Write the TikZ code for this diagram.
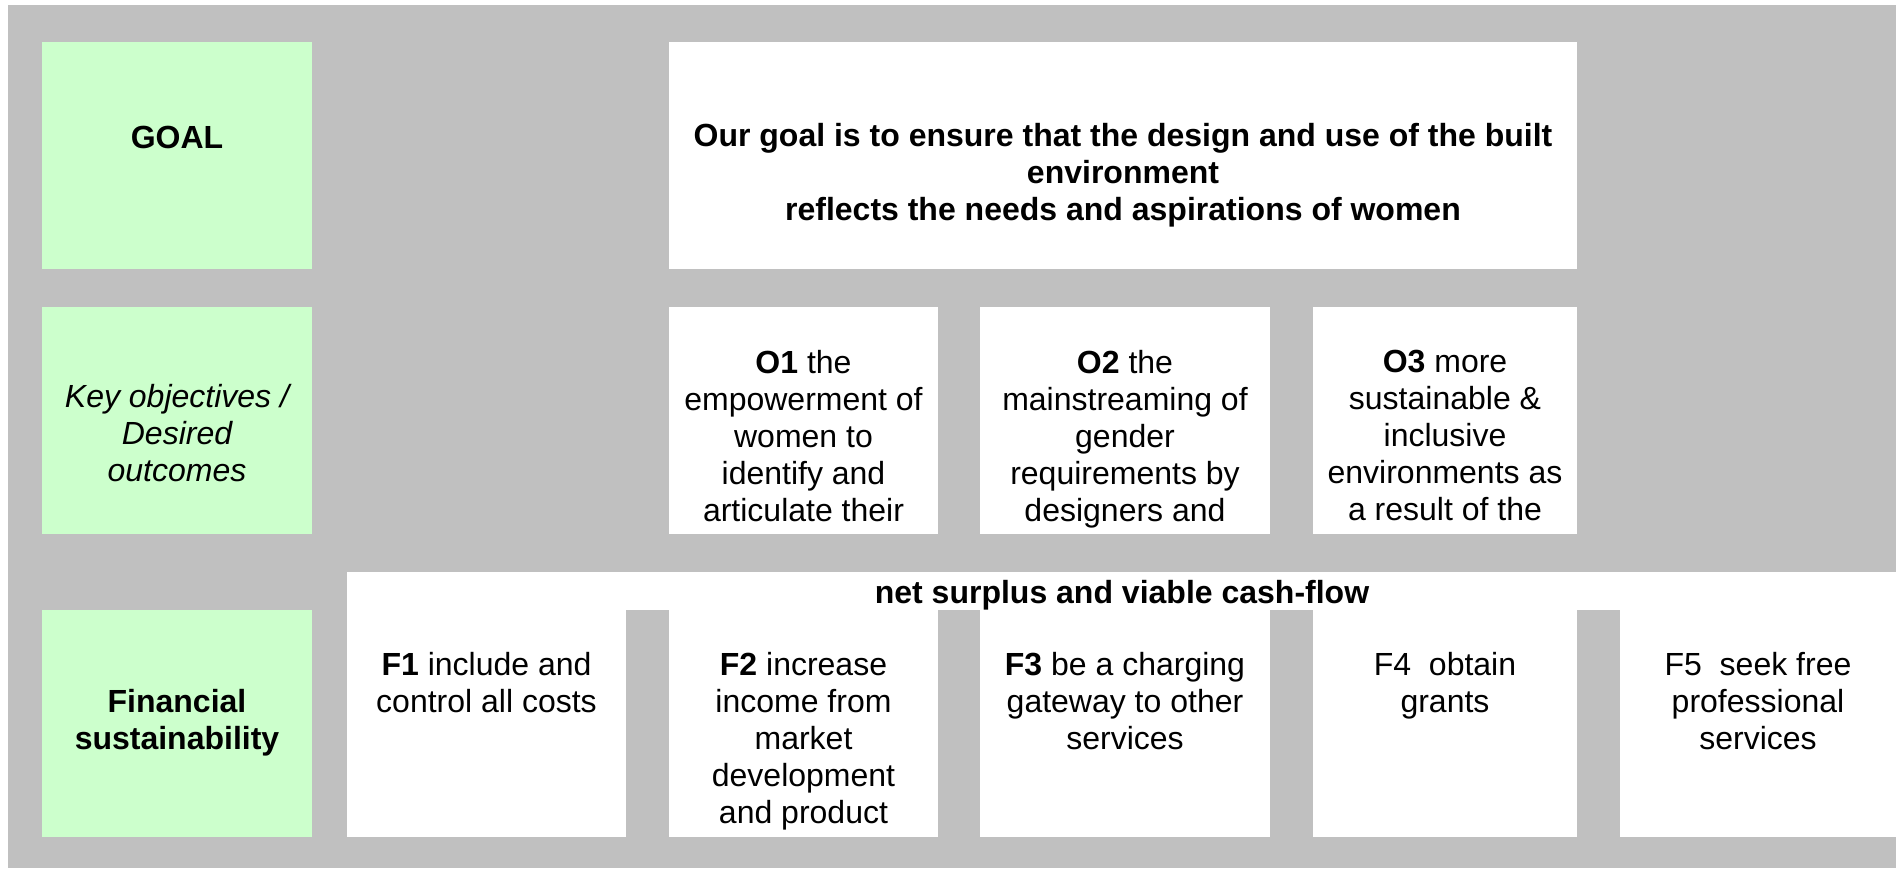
\documentclass[tikz,border=0pt]{standalone}
\usepackage{fontspec}
\setmainfont{Liberation Sans}
\definecolor{cellgray}{HTML}{C0C0C0}
\definecolor{labelgreen}{HTML}{CCFFCC}
\newcommand{\cellfont}{\fontsize{16}{18.5}\selectfont}
\tikzset{
  cell/.style={fill=white},
  labelcell/.style={fill=labelgreen},
  celltext/.style={font={\cellfont}, black, align=center, anchor=north,
    inner sep=0pt, execute at begin node=\strut},
  celltextbf/.style={celltext, font={\cellfont\bfseries}},
  celltextit/.style={celltext, font={\cellfont\itshape}},
}

\begin{document}
\begin{tikzpicture}[x=0.5pt, y=-0.5pt]
        \useasboundingbox (0,0) rectangle (1896,868);
        \fill[cellgray] (8,5) rectangle (1896,868);

        % label column
        \fill[labelcell] (42,42) rectangle (312,269);
        \fill[labelcell] (42,307) rectangle (312,534);
        \fill[labelcell] (42,610) rectangle (312,837);

        % goal row
        \fill[cell] (669,42) rectangle (1577,269);

        % objectives row
        \foreach \a/\b in {669/938, 980/1270, 1313/1577}
            \fill[cell] (\a,307) rectangle (\b,534);

        % finance row
        \fill[cell] (347,572) rectangle (1896,610);
        \foreach \a/\b in {347/626, 669/938, 980/1270, 1313/1577, 1620/1896}
            \fill[cell] (\a,610) rectangle (\b,837);

        \node[celltextbf] (goallabel) at (177,122) {GOAL};
        \node[celltextbf] (goaltext) at (1123,123)
            {Our goal is to ensure that the design and use of the built\\environment\\reflects the needs and aspirations of women};

        \node[celltextit] (objlabel) at (177,384) {Key objectives /\\Desired\\outcomes};
        \node[celltext] (obj1) at (803.5,350) {\textbf{O1} the\\empowerment of\\women to\\identify and\\articulate their};
        \node[celltext] (obj2) at (1125,350) {\textbf{O2} the\\mainstreaming of\\gender\\requirements by\\designers and};
        \node[celltext] (obj3) at (1445,350) {\textbf{O3} more\\sustainable \&\\inclusive\\environments as\\a result of the};

        \node[celltextbf] (surplus) at (1122,577) {net surplus and viable cash-flow};
        \node[celltextbf] (finlabel) at (177,689) {Financial\\sustainability};
        \node[celltext] (fin1) at (486.5,652) {\textbf{F1} include and\\control all costs};
        \node[celltext] (fin2) at (803.5,652) {\textbf{F2} increase\\income from\\market\\development\\and product};
        \node[celltext] (fin3) at (1125,652) {\textbf{F3} be a charging\\gateway to other\\services};
        \node[celltext] (fin4) at (1445,652) {F4\ \ obtain\\grants};
        \node[celltext] (fin5) at (1758,652) {F5\ \ seek free\\professional\\services};
\end{tikzpicture}
\end{document}
